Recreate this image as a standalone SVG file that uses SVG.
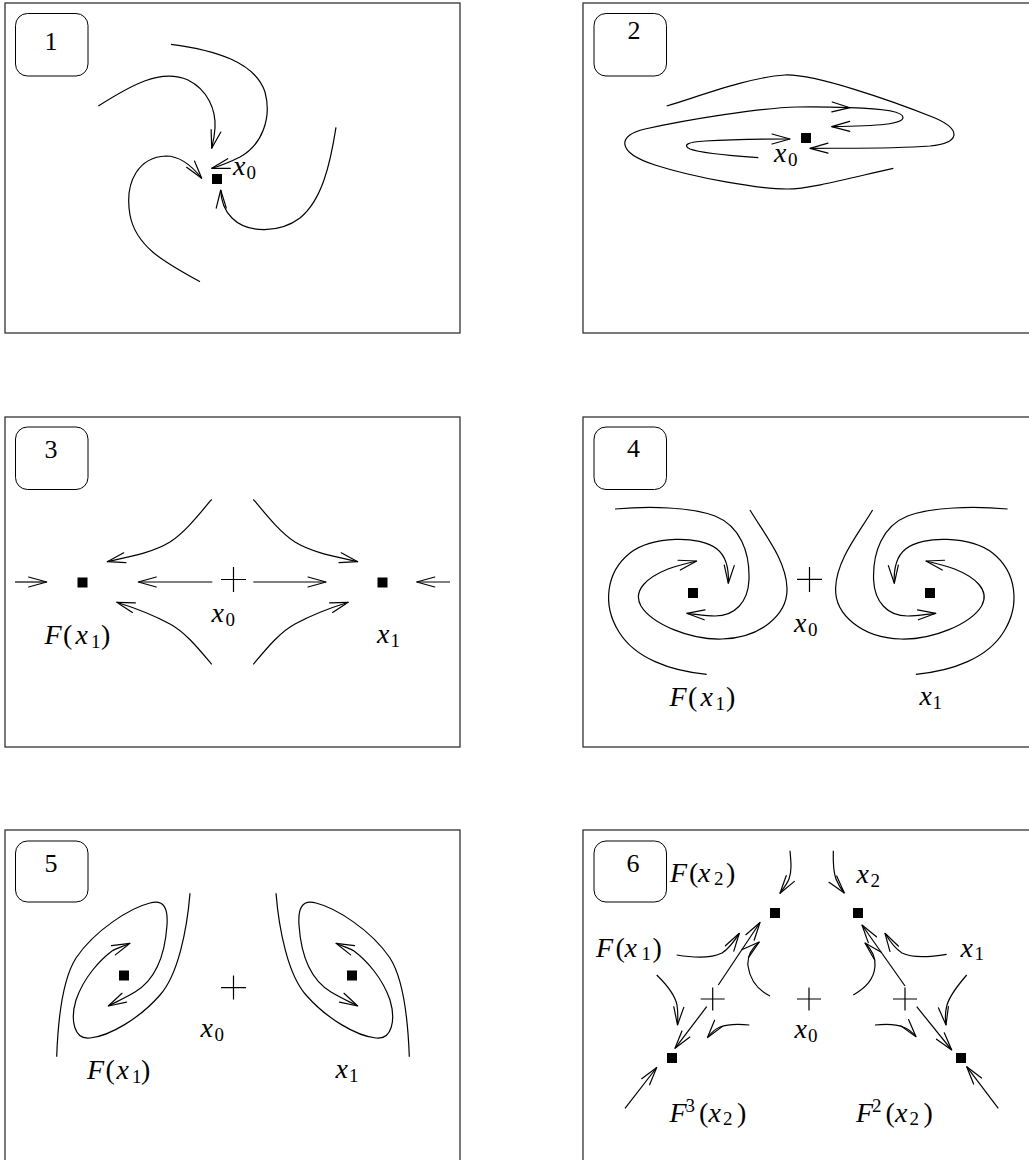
<svg xmlns="http://www.w3.org/2000/svg" width="1029" height="1160" viewBox="0 0 1029 1160">
<style>
.frame{fill:#fff;stroke:#333;stroke-width:1.3}
.box{fill:none;stroke:#000;stroke-width:1}
.num{font-family:"Liberation Serif","DejaVu Serif",serif;font-size:26px;fill:#000;text-anchor:middle}
.lb{font-family:"Liberation Serif","DejaVu Serif",serif;font-size:28px;fill:#000}
.it{font-style:italic}
.sb{font-size:19px;font-style:normal}
.c{fill:none;stroke:#000;stroke-width:1.2;marker-end:url(#ah)}
.pt{fill:#000}
.plus{fill:none;stroke:#000;stroke-width:1.2}
</style>
<defs>
<marker id="ah" markerUnits="userSpaceOnUse" orient="auto" overflow="visible" markerWidth="22" markerHeight="12" viewBox="-20 -6 22 12" refX="0" refY="0">
<path d="M-18,-5 L0,0 L-18,5" fill="none" stroke="#000" stroke-width="1.2" stroke-linecap="round" stroke-linejoin="round"/>
</marker>
</defs>
<rect width="1029" height="1160" fill="#fff"/>

<g id="panel1"><rect class="frame" x="5" y="3" width="455" height="330"/></g>
<g id="panel2"><rect class="frame" x="583" y="3" width="455" height="330"/></g>
<g id="panel3"><rect class="frame" x="5" y="417" width="455" height="330"/></g>
<g id="panel4"><rect class="frame" x="583" y="417" width="455" height="330"/></g>
<g id="panel5"><rect class="frame" x="5" y="830" width="455" height="340"/></g>
<g id="panel6"><rect class="frame" x="583" y="830" width="455" height="340"/></g>

<g id="tag1"><rect class="box" x="15.5" y="13.5" width="72.5" height="62.5" rx="12"/><text class="num" x="51" y="50">1</text></g>
<g id="tag2"><rect class="box" x="594" y="13.5" width="72.5" height="62.5" rx="12"/><text class="num" x="634" y="39.3">2</text></g>
<g id="tag3"><rect class="box" x="15.5" y="427" width="72.5" height="62.5" rx="12"/><text class="num" x="51" y="458">3</text></g>
<g id="tag4"><rect class="box" x="594" y="427" width="72.5" height="62.5" rx="12"/><text class="num" x="633.5" y="456.7">4</text></g>
<g id="tag5"><rect class="box" x="15.5" y="841" width="72.5" height="61" rx="12"/><text class="num" x="51" y="871.7">5</text></g>
<g id="tag6"><rect class="box" x="594" y="841" width="72.5" height="61" rx="12"/><text class="num" x="633" y="871.7">6</text></g>

<g id="p1-x0"><rect class="pt" x="212" y="174" width="10" height="10"/>
<text class="lb"><tspan class="it" x="233" y="175">x</tspan><tspan class="sb" x="246.5" y="179">0</tspan></text></g>

<g id="p2-x0"><rect class="pt" x="801" y="133" width="10" height="10"/>
<text class="lb"><tspan class="it" x="774" y="161.7">x</tspan><tspan class="sb" x="788" y="166">0</tspan></text></g>

<g id="p3-Fx1"><rect class="pt" x="77.5" y="577.5" width="10" height="10"/>
<text class="lb"><tspan class="it" x="44.5" y="644">F</tspan><tspan x="63" y="644">(</tspan><tspan class="it" x="75.5" y="644">x</tspan><tspan class="sb" x="91" y="647.5">1</tspan><tspan x="101" y="644">)</tspan></text></g>
<g id="p3-x0"><path class="plus" d="M221,579.5 H246 M233.5,567 V592"/>
<text class="lb"><tspan class="it" x="211.5" y="621.7">x</tspan><tspan class="sb" x="225.5" y="625.5">0</tspan></text></g>
<g id="p3-x1"><rect class="pt" x="377.5" y="577.5" width="10" height="10"/>
<text class="lb"><tspan class="it" x="377" y="643.3">x</tspan><tspan class="sb" x="390.5" y="647">1</tspan></text></g>

<g id="p4-Fx1"><rect class="pt" x="688" y="588" width="10" height="10"/>
<text class="lb"><tspan class="it" x="669.5" y="706">F</tspan><tspan x="688" y="706">(</tspan><tspan class="it" x="700.5" y="706">x</tspan><tspan class="sb" x="715.5" y="709.5">1</tspan><tspan x="726" y="706">)</tspan></text></g>
<g id="p4-x0"><path class="plus" d="M797,579.3 H822 M809.5,567 V592"/>
<text class="lb"><tspan class="it" x="794" y="631.7">x</tspan><tspan class="sb" x="808" y="635.5">0</tspan></text></g>
<g id="p4-x1"><rect class="pt" x="925" y="588" width="10" height="10"/>
<text class="lb"><tspan class="it" x="919.5" y="705">x</tspan><tspan class="sb" x="932.5" y="708.5">1</tspan></text></g>

<g id="p5-Fx1"><rect class="pt" x="119" y="970.5" width="10" height="10"/>
<text class="lb"><tspan class="it" x="87" y="1079.3">F</tspan><tspan x="105.5" y="1079.3">(</tspan><tspan class="it" x="116.5" y="1079.3">x</tspan><tspan class="sb" x="132" y="1083">1</tspan><tspan x="141" y="1079.3">)</tspan></text></g>
<g id="p5-x0"><path class="plus" d="M221,987.7 H246 M233.5,975.5 V999.5"/>
<text class="lb"><tspan class="it" x="200.5" y="1036.7">x</tspan><tspan class="sb" x="214.5" y="1040.5">0</tspan></text></g>
<g id="p5-x1"><rect class="pt" x="347" y="970.5" width="10" height="10"/>
<text class="lb"><tspan class="it" x="335.5" y="1078.3">x</tspan><tspan class="sb" x="349" y="1082">1</tspan></text></g>

<g id="p6-Fx2"><rect class="pt" x="770" y="908" width="10" height="10"/>
<text class="lb"><tspan class="it" x="670" y="881.7">F</tspan><tspan x="689" y="881.7">(</tspan><tspan class="it" x="698" y="881.7">x</tspan><tspan class="sb" x="714" y="885.3">2</tspan><tspan x="726" y="881.7">)</tspan></text></g>
<g id="p6-x2"><rect class="pt" x="853" y="908" width="10" height="10"/>
<text class="lb"><tspan class="it" x="856.5" y="883.3">x</tspan><tspan class="sb" x="870.5" y="886.8">2</tspan></text></g>
<g id="p6-F3x2"><rect class="pt" x="667" y="1053" width="10" height="10"/>
<text class="lb"><tspan class="it" x="669.5" y="1121.7">F</tspan><tspan class="sb" x="685.5" y="1112">3</tspan><tspan x="699" y="1121.7">(</tspan><tspan class="it" x="708.5" y="1121.7">x</tspan><tspan class="sb" x="723" y="1125.2">2</tspan><tspan x="737" y="1121.7">)</tspan></text></g>
<g id="p6-F2x2"><rect class="pt" x="956" y="1053" width="10" height="10"/>
<text class="lb"><tspan class="it" x="856" y="1121.7">F</tspan><tspan class="sb" x="872" y="1112">2</tspan><tspan x="885.5" y="1121.7">(</tspan><tspan class="it" x="895" y="1121.7">x</tspan><tspan class="sb" x="909.5" y="1125.2">2</tspan><tspan x="923.5" y="1121.7">)</tspan></text></g>
<g id="p6-Fx1"><path class="plus" d="M700.7,999 H724.7 M712.7,987.5 V1010.5"/>
<text class="lb"><tspan class="it" x="596" y="956.7">F</tspan><tspan x="615.5" y="956.7">(</tspan><tspan class="it" x="624.5" y="956.7">x</tspan><tspan class="sb" x="641.5" y="960.2">1</tspan><tspan x="652.5" y="956.7">)</tspan></text></g>
<g id="p6-x0"><path class="plus" d="M797,999 H821 M809,987.5 V1010.5"/>
<text class="lb"><tspan class="it" x="794.5" y="1038">x</tspan><tspan class="sb" x="808" y="1041.5">0</tspan></text></g>
<g id="p6-x1"><path class="plus" d="M893,999 H917 M905,987.5 V1010.5"/>
<text class="lb"><tspan class="it" x="960.5" y="956.7">x</tspan><tspan class="sb" x="974.5" y="960.2">1</tspan></text></g>

<g id="connectors">
<path class="c" d="M98.3,106 C130,86 160,68 188,80 C208,90 216,110 215,128 C214.5,137 213,143 211.7,148.3"/>
<path class="c" d="M171,44.3 C215,50 255,62 265,92 C272,118 262,145 240,157 C230,162 220,166 211.7,168.3"/>
<path class="c" d="M200,281.7 C168,264 136,248 130,215 C124,180 140,157 166,156 C180,156 192,166 201.7,178.3"/>
<path class="c" d="M336,127.3 C330,165 322,200 300,218 C280,233 248,234 232,218 C224,210 221,200 220.7,190"/>
<path class="c" d="M666.7,106 C700,96 750,77 785,75 C815,74 890,100 935,118 C962,130 960,143 930,146 C890,149 850,148 810,148.3"/>
<path class="c" d="M893.3,168.3 C850,178 810,189 787,189 C760,189 695,178 655,165 C615,152 618,135 645,129 C690,119 760,108 797,107 C815,106.5 833,107 850,107.7"/>
<path class="c" d="M850,107.7 C878,108.5 903,111 903,117.5 C903,124 880,126 831.7,126.7"/>
<path class="c" d="M758.3,157.7 C735,156 700,153 690,149 C682,145 688,142 705,141 C730,139.5 765,139 790,139"/>
<path class="c" d="M211.7,499.3 C197,517 184,533 170,542 C152,553 128,557 107.3,561.7"/>
<path class="c" d="M253.3,499.3 C268,517 281,533 295,542 C313,553 337,557 357.7,561.7"/>
<path class="c" d="M211.7,664.3 C198,648 185,632 170,624 C155,616 135,608 116.7,602.3"/>
<path class="c" d="M253.3,664.3 C267,648 280,632 295,624 C310,616 330,608 348.3,602.3"/>
<path class="c" d="M212.3,582 L138.3,582"/>
<path class="c" d="M253.3,582 L326,582"/>
<path class="c" d="M15,582 L46.7,582"/>
<path class="c" d="M450,582 L416.7,582"/>
<g id="p4-left">
<path class="c" d="M615,509 C650,506 690,507 715,516 C740,526 750,552 749,580 C748,602 735,616 715,616 C705,616 695,614 686.7,613.3"/>
<path class="c" d="M706.7,674.3 C670,671 635,658 619,632 C602,605 606,572 630,553 C652,536 700,535 717,549 C727,557 729,570 728.3,583.3"/>
<path class="c" d="M750,510 C765,535 786,560 787,588 C788,615 760,638 722,639 C690,640 652,624 641,606 C632,590 648,577 668,569 C676,566 684,564 696.7,561"/>
</g>
<g id="p4-right" transform="translate(1622.6,0) scale(-1,1)">
<path class="c" d="M615,509 C650,506 690,507 715,516 C740,526 750,552 749,580 C748,602 735,616 715,616 C705,616 695,614 686.7,613.3"/>
<path class="c" d="M706.7,674.3 C670,671 635,658 619,632 C602,605 606,572 630,553 C652,536 700,535 717,549 C727,557 729,570 728.3,583.3"/>
<path class="c" d="M750,510 C765,535 786,560 787,588 C788,615 760,638 722,639 C690,640 652,624 641,606 C632,590 648,577 668,569 C676,566 684,564 696.7,561"/>
</g>
<g id="p5-left">
<path class="c" d="M56.7,1056.7 C58,1020 62,980 76,958 C95,930 130,908 150,903 C165,899 168,910 167,925 C165,955 155,980 135,992 C125,998 116,1002 108.3,1006"/>
<path class="c" d="M190,893.3 C187,930 178,975 160,995 C140,1018 110,1036 90,1038 C74,1040 70,1020 76,1000 C84,977 100,960 112,951 C116,948.5 120,947.5 130,943.3"/>
</g>
<g id="p5-right" transform="translate(466,0) scale(-1,1)">
<path class="c" d="M56.7,1056.7 C58,1020 62,980 76,958 C95,930 130,908 150,903 C165,899 168,910 167,925 C165,955 155,980 135,992 C125,998 116,1002 108.3,1006"/>
<path class="c" d="M190,893.3 C187,930 178,975 160,995 C140,1018 110,1036 90,1038 C74,1040 70,1020 76,1000 C84,977 100,960 112,951 C116,948.5 120,947.5 130,943.3"/>
</g>
<path class="c" d="M790,850.7 C791,862 792,871 789,879 C787,884 783,889 780,893.3"/>
<path class="c" d="M833.3,850.7 C833,862 833,871 836,879 C838,884 841,889 844.3,893"/>
<path class="c" d="M676.7,955 C695,958 712,958 722,953 C730,948 735,940 739.3,933.3"/>
<path class="c" d="M718.3,985 L760,922.5"/>
<path class="c" d="M770,996 C758,990 750,980 748,966 C747,956 752,948 759.3,942"/>
<path class="c" d="M656.7,975 C667,985 675,995 677,1005 C678,1012 678,1018 677.5,1025"/>
<path class="c" d="M749.3,1025 C738,1024 728,1024 720,1027 C715,1029 711,1033 707.5,1037.5"/>
<path class="c" d="M625,1108.3 L656.7,1067.5"/>
<path class="c" d="M706.7,1006.7 L675,1048.3"/>
<path class="c" d="M905,986 L862,925"/>
<path class="c" d="M946.7,954.3 C930,957 912,958 902,953 C894,948 889,940 885,933.3"/>
<path class="c" d="M853.3,995 C865,988 874,980 875,966 C876,956 870,948 865,943"/>
<path class="c" d="M916.7,1006.7 L951.7,1050"/>
<path class="c" d="M966.7,975 C958,985 950,995 947,1005 C945,1012 945,1018 946,1025"/>
<path class="c" d="M875,1025 C886,1024 896,1024 903,1027 C909,1029 913,1033 916,1036.7"/>
<path class="c" d="M998.3,1108.3 L966.7,1066.7"/>
</g>
</svg>
